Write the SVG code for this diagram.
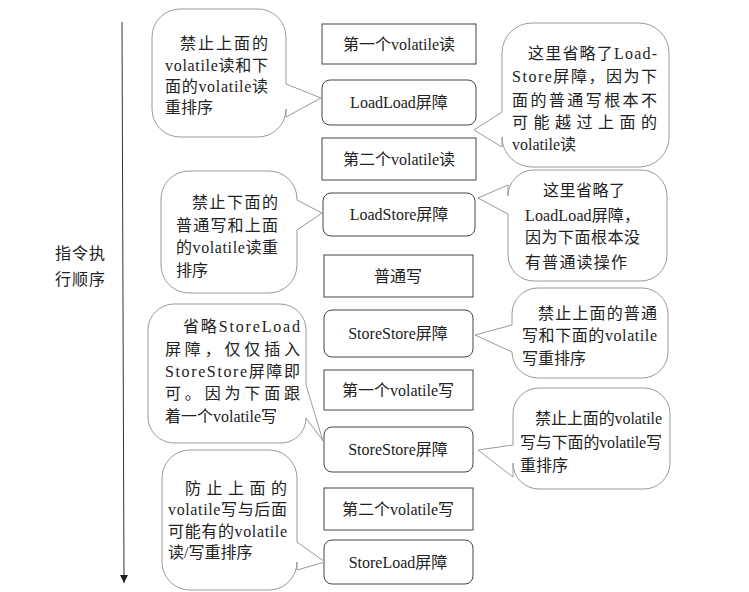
<svg xmlns="http://www.w3.org/2000/svg" width="749" height="592" viewBox="0 0 749 592">
<style>
.bg{fill:#fff}
.box{fill:#fff;stroke:#444;stroke-width:1}
.bub{fill:#fff;stroke:#9a9a9a;stroke-width:1}
text{font-family:"Liberation Serif","Noto Sans CJK SC",serif;fill:#222}
.bt{font-size:16px;text-anchor:middle}
.ct{font-size:16px}
.axis{stroke:#333;stroke-width:1;fill:none}
</style>
<defs>
<marker id="ah" viewBox="0 0 10 10" refX="10" refY="5" markerWidth="8" markerHeight="8" markerUnits="userSpaceOnUse" orient="auto">
<path d="M0,0 L10,5 L0,10 Z" fill="#222"/>
</marker>
</defs>
<rect class="bg" x="0" y="0" width="749" height="592"/>

<g id="connectors">
<line class="axis" x1="122" y1="22" x2="124" y2="583" marker-end="url(#ah)"/>
</g>

<g id="axis-label">
<text class="ct" x="55" y="259" textLength="50" lengthAdjust="spacing">指令执</text>
<text class="ct" x="55" y="285" textLength="50" lengthAdjust="spacing">行顺序</text>
</g>

<g id="box1"><rect class="box" x="322" y="24" width="154" height="40"/><text class="bt" x="399" y="50">第一个volatile读</text></g>
<g id="box2"><rect class="box" x="322" y="80" width="154" height="45" rx="8"/><text class="bt" x="399" y="108">LoadLoad屏障</text></g>
<g id="box3"><rect class="box" x="322" y="138" width="154" height="42"/><text class="bt" x="399" y="165">第二个volatile读</text></g>
<g id="box4"><rect class="box" x="323" y="193" width="152" height="43" rx="8"/><text class="bt" x="399" y="220">LoadStore屏障</text></g>
<g id="box5"><rect class="box" x="324" y="255" width="149" height="42"/><text class="bt" x="398" y="282">普通写</text></g>
<g id="box6"><rect class="box" x="324" y="310" width="149" height="47" rx="8"/><text class="bt" x="398" y="339">StoreStore屏障</text></g>
<g id="box7"><rect class="box" x="324" y="370" width="149" height="40"/><text class="bt" x="398" y="396">第一个volatile写</text></g>
<g id="box8"><rect class="box" x="324" y="427" width="149" height="45" rx="8"/><text class="bt" x="398" y="455">StoreStore屏障</text></g>
<g id="box9"><rect class="box" x="324" y="488" width="149" height="42"/><text class="bt" x="398" y="515">第二个volatile写</text></g>
<g id="box10"><rect class="box" x="324" y="540" width="149" height="44" rx="8"/><text class="bt" x="398" y="568">StoreLoad屏障</text></g>

<g id="note1">
<path class="bub" d="M180,9 H258 A28,28 0 0 1 286,37 V84 L321,98 L286,117 V109 A28,28 0 0 1 258,137 H180 A28,28 0 0 1 152,109 V37 A28,28 0 0 1 180,9 Z"/>
<text class="ct" x="180" y="49" textLength="88" lengthAdjust="spacing">禁止上面的</text>
<text class="ct" x="165" y="71" textLength="103" lengthAdjust="spacing">volatile读和下</text>
<text class="ct" x="165" y="92" textLength="103" lengthAdjust="spacing">面的volatile读</text>
<text class="ct" x="165" y="113">重排序</text>
</g>

<g id="note2">
<path class="bub" d="M532,23 H639 A30,30 0 0 1 669,53 V137 A30,30 0 0 1 639,167 H532 A30,30 0 0 1 502,137 V147 L474,130 L502,112 V53 A30,30 0 0 1 532,23 Z"/>
<text class="ct" x="528" y="59" textLength="129" lengthAdjust="spacing">这里省略了Load-</text>
<text class="ct" x="512" y="82" textLength="145" lengthAdjust="spacing">Store屏障，因为下</text>
<text class="ct" x="512" y="106" textLength="145" lengthAdjust="spacing">面的普通写根本不</text>
<text class="ct" x="512" y="128" textLength="145" lengthAdjust="spacing">可能越过上面的</text>
<text class="ct" x="512" y="150">volatile读</text>
</g>

<g id="note3">
<path class="bub" d="M189,171 H269 A28,28 0 0 1 297,199 V200 L322,213 L297,230 V265 A28,28 0 0 1 269,293 H189 A28,28 0 0 1 161,265 V199 A28,28 0 0 1 189,171 Z"/>
<text class="ct" x="192" y="208" textLength="86" lengthAdjust="spacing">禁止下面的</text>
<text class="ct" x="176" y="231" textLength="102" lengthAdjust="spacing">普通写和上面</text>
<text class="ct" x="176" y="253" textLength="102" lengthAdjust="spacing">的volatile读重</text>
<text class="ct" x="176" y="276">排序</text>
</g>

<g id="note4">
<path class="bub" d="M534,170 H641 A26,26 0 0 1 667,196 V255 A26,26 0 0 1 641,281 H534 A26,26 0 0 1 508,255 V214 L478,198 L508,185 V196 A26,26 0 0 1 534,170 Z"/>
<text class="ct" x="543" y="196" textLength="82" lengthAdjust="spacing">这里省略了</text>
<text class="ct" x="525" y="221" textLength="115" lengthAdjust="spacing">LoadLoad屏障，</text>
<text class="ct" x="525" y="243" textLength="115" lengthAdjust="spacing">因为下面根本没</text>
<text class="ct" x="525" y="268" textLength="102" lengthAdjust="spacing">有普通读操作</text>
</g>

<g id="note5">
<path class="bub" d="M174,304 H280 A26,26 0 0 1 306,330 V385 L323,441 L306,418 A25,25 0 0 1 280,443 H174 A26,26 0 0 1 148,417 V330 A26,26 0 0 1 174,304 Z"/>
<text class="ct" x="183" y="332" textLength="117" lengthAdjust="spacing">省略StoreLoad</text>
<text class="ct" x="165" y="355" textLength="135" lengthAdjust="spacing">屏障，仅仅插入</text>
<text class="ct" x="165" y="377" textLength="135" lengthAdjust="spacing">StoreStore屏障即</text>
<text class="ct" x="165" y="399" textLength="135" lengthAdjust="spacing">可。因为下面跟</text>
<text class="ct" x="165" y="422">着一个volatile写</text>
</g>

<g id="note6">
<path class="bub" d="M538,288 H642 A26,26 0 0 1 668,314 V352 A26,26 0 0 1 642,378 H538 A26,26 0 0 1 512,352 L475,335 L512,325 V314 A26,26 0 0 1 538,288 Z"/>
<text class="ct" x="538" y="319" textLength="119" lengthAdjust="spacing">禁止上面的普通</text>
<text class="ct" x="522" y="341" textLength="135" lengthAdjust="spacing">写和下面的volatile</text>
<text class="ct" x="522" y="364">写重排序</text>
</g>

<g id="note7">
<path class="bub" d="M539,388 H644 A26,26 0 0 1 670,414 V463 A26,26 0 0 1 644,489 H539 A26,26 0 0 1 513,463 V477 L478,450 L513,445 V414 A26,26 0 0 1 539,388 Z"/>
<text class="ct" x="535" y="424" textLength="127" lengthAdjust="spacing">禁止上面的volatile</text>
<text class="ct" x="520" y="448" textLength="142" lengthAdjust="spacing">写与下面的volatile写</text>
<text class="ct" x="520" y="471">重排序</text>
</g>

<g id="note8">
<path class="bub" d="M190,450 H269 A28,28 0 0 1 297,478 V542 L325,562 L297,570 V562 A28,28 0 0 1 269,590 H190 A28,28 0 0 1 162,562 V478 A28,28 0 0 1 190,450 Z"/>
<text class="ct" x="185" y="494" textLength="102" lengthAdjust="spacing">防止上面的</text>
<text class="ct" x="168" y="515" textLength="119" lengthAdjust="spacing">volatile写与后面</text>
<text class="ct" x="168" y="537" textLength="119" lengthAdjust="spacing">可能有的volatile</text>
<text class="ct" x="168" y="558">读/写重排序</text>
</g>
</svg>
